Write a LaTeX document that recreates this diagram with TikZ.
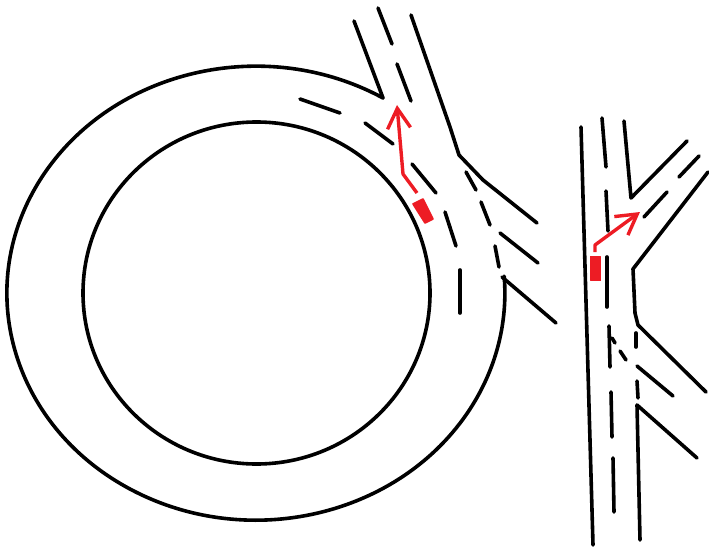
\documentclass[tikz,border=0pt]{standalone}
\usetikzlibrary{arrows.meta}
\definecolor{carred}{HTML}{ED1C24}

\begin{document}
\begin{tikzpicture}[
    x=1pt, y=-1pt,
    % Line styles
    edge/.style={
        draw=black, line width=3.6pt, line cap=round, line join=round,
    },
    lane/.style={
        draw=black, line width=3.6pt, line cap=round,
    },
    route/.style={
        draw=carred, line width=3.4pt, line join=round,
        -{Straight Barb[length=20pt, width=23pt, line width=3.4pt]},
    },
    car/.style={
        draw=carred, fill=carred, line width=1.6pt, line join=round,
    },
]
\useasboundingbox (0,0) rectangle (709,548);

% === Roundabout: island and outer edge ===
\draw[edge] (256.5,293) ellipse [x radius=173.5, y radius=171];
\draw[edge] (383,98) arc [start angle=-59.3, end angle=-364.3, x radius=249, y radius=227];

% === Roundabout: ring lane dashes ===
\draw[lane] (300,99) -- (340,113);
\draw[lane] (365,123) -- (393,144);
\draw[lane] (412,164) -- (436,193);
\draw[lane] (445,212) -- (456,246);
\draw[lane] (460,270) -- (460,313);

% === Roundabout: exit road at the top ===
\draw[edge] (354,21) -- (383,98);
\draw[edge] (411,15) -- (450,127) -- (459,155) -- (483,180) -- (537,223);
\draw[lane] (378,8) -- (392,44);
\draw[lane] (397,64) -- (411,101);

% === Roundabout: entry road ===
\draw[edge] (502,277) -- (556,323);
\draw[lane] (500,233) -- (538,263);
\draw[lane] (466,172) -- (476,190);
\draw[lane] (481,202) -- (490,225);
\draw[lane] (495,246) -- (499,267);

% === Roundabout: car and route ===
\draw[car] (413,204) -- (423,199) -- (433,219) -- (425,223) -- cycle;
\draw[route] (417,193) -- (403,174) -- (397,105);

% === Straight road: edges ===
\draw[edge] (581,127) -- (593,545);
\draw[edge] (624,121) -- (631,198) -- (687,141);
\draw[edge] (708,172) -- (633,269) -- (635,313) -- (638,325) -- (706,392);
\draw[edge] (697,458) -- (637,405) -- (640,540);

% === Straight road: centre dashes ===
\draw[lane] (602,118) -- (606,167);
\draw[lane] (606,191) -- (608,231);
\draw[lane] (607,257) -- (607,307);
\draw[lane] (609,326) -- (610,367);
\draw[lane] (611,392) -- (612,437);
\draw[lane] (613,458) -- (614,512);

% === Straight road: side road dashes ===
\draw[lane] (644,217) -- (667,192);
\draw[lane] (679,177) -- (699,156);
\draw[lane] (636,333) -- (636,347);
\draw[lane] (612,338) -- (615,343);
\draw[lane] (620,351) -- (626,360);
\draw[lane] (637,366) -- (673,396);
\draw[lane] (637,381) -- (638,398);

% === Straight road: car and route ===
\draw[car] (590.5,256.5) rectangle (600.5,280.5);
\draw[route] (595,252) -- (595,245) -- (640,212);

\end{tikzpicture}
\end{document}
